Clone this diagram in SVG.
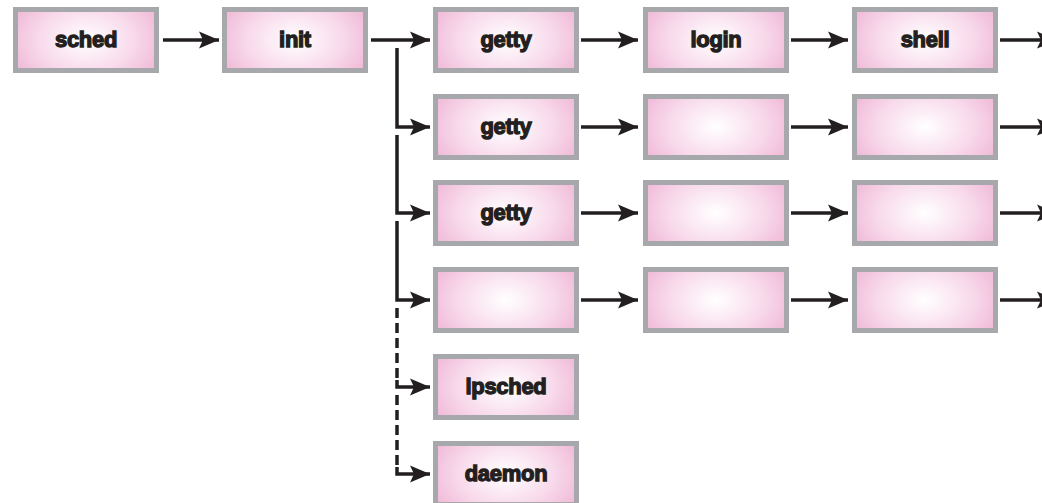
<svg xmlns="http://www.w3.org/2000/svg" width="1042" height="503" viewBox="0 0 1042 503">
  <defs>
    <radialGradient id="boxFill" cx="0.5" cy="0.5" r="0.62" gradientTransform="translate(0.5 0.5) scale(1 1.6) translate(-0.5 -0.5)">
      <stop offset="0" stop-color="#ffffff"/>
      <stop offset="0.55" stop-color="#f8d9eb"/>
      <stop offset="1" stop-color="#eeb2d3"/>
    </radialGradient>
    <marker id="head" markerUnits="userSpaceOnUse" markerWidth="22" markerHeight="18" refX="20" refY="9" orient="auto">
      <path d="M0,0.5 L20,9 L0,17.5 L4,9 Z" fill="#231f20"/>
    </marker>
    <style>
      .box rect { fill: url(#boxFill); stroke: #a6a8ab; stroke-width: 5; }
      .box text { font-family: "Liberation Sans", Arial, sans-serif; font-weight: bold; font-size: 22px; fill: #231f20; stroke: #231f20; stroke-width: 1.3; text-anchor: middle; letter-spacing: -0.3px; }
      .conn path { fill: none; stroke: #231f20; stroke-width: 3.5; }
      .conn .arrow { marker-end: url(#head); }
      .conn .dash { stroke-dasharray: 10 5; }
    </style>
  </defs>

  <!-- process boxes: outer size 146 x 66 -->
  <g id="sched" class="box"><rect x="15.5" y="9.5" width="141" height="61"/><text x="86" y="47">sched</text></g>
  <g id="init" class="box"><rect x="224.5" y="9.5" width="141" height="61"/><text x="295" y="47">init</text></g>

  <g id="getty1" class="box"><rect x="435.5" y="9.5" width="141" height="61"/><text x="506" y="47">getty</text></g>
  <g id="login" class="box"><rect x="645.5" y="9.5" width="141" height="61"/><text x="716" y="47">login</text></g>
  <g id="shell" class="box"><rect x="854.5" y="9.5" width="141" height="61"/><text x="925" y="47">shell</text></g>

  <g id="getty2" class="box"><rect x="435.5" y="96.5" width="141" height="61"/><text x="506" y="134">getty</text></g>
  <g id="proc2b" class="box"><rect x="645.5" y="96.5" width="141" height="61"/></g>
  <g id="proc2c" class="box"><rect x="854.5" y="96.5" width="141" height="61"/></g>

  <g id="getty3" class="box"><rect x="435.5" y="182.5" width="141" height="61"/><text x="506" y="220">getty</text></g>
  <g id="proc3b" class="box"><rect x="645.5" y="182.5" width="141" height="61"/></g>
  <g id="proc3c" class="box"><rect x="854.5" y="182.5" width="141" height="61"/></g>

  <g id="proc4a" class="box"><rect x="435.5" y="269.5" width="141" height="61"/></g>
  <g id="proc4b" class="box"><rect x="645.5" y="269.5" width="141" height="61"/></g>
  <g id="proc4c" class="box"><rect x="854.5" y="269.5" width="141" height="61"/></g>

  <g id="lpsched" class="box"><rect x="435.5" y="356.5" width="141" height="61"/><text x="506" y="394">lpsched</text></g>
  <g id="daemon" class="box"><rect x="435.5" y="443.5" width="141" height="61"/><text x="506" y="481">daemon</text></g>

  <!-- connectors -->
  <g id="connectors" class="conn">
    <path class="arrow" d="M163,40 H219"/>
    <path class="arrow" d="M371,40 H430"/>

    <path class="arrow" d="M397,48 V127 H430"/>
    <path class="arrow" d="M397,135 V213 H430"/>
    <path class="arrow" d="M397,221 V300 H430"/>
    <path class="dash" d="M397,308 V380"/>
    <path class="arrow" d="M397,380 V387 H430"/>
    <path class="dash" d="M397,395 V467"/>
    <path class="arrow" d="M397,467 V474 H430"/>

    <path class="arrow" d="M581,40 H638"/>
    <path class="arrow" d="M791,40 H848"/>
    <path class="arrow" d="M1000,40 H1057"/>

    <path class="arrow" d="M581,127 H638"/>
    <path class="arrow" d="M791,127 H848"/>
    <path class="arrow" d="M1000,127 H1057"/>

    <path class="arrow" d="M581,213 H638"/>
    <path class="arrow" d="M791,213 H848"/>
    <path class="arrow" d="M1000,213 H1057"/>

    <path class="arrow" d="M581,300 H638"/>
    <path class="arrow" d="M791,300 H848"/>
    <path class="arrow" d="M1000,300 H1057"/>
  </g>
</svg>
